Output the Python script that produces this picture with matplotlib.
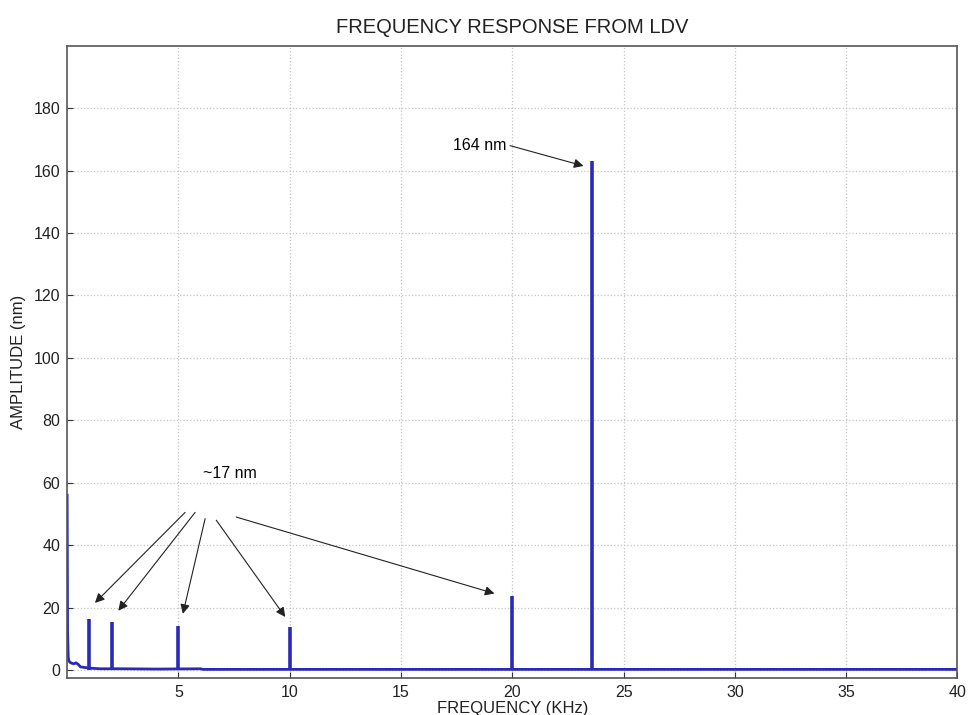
import matplotlib.pyplot as plt
import numpy as np

plt.rcParams['font.family'] = ['Liberation Sans', 'DejaVu Sans']

# spectrum floor (kHz, nm)
floor_freq = [0.0, 0.02, 0.05, 0.08, 0.12, 0.2, 0.3, 0.4, 0.5, 0.6, 0.8, 1.0, 1.5, 2.5, 4.0, 6.0, 6.1, 40.0]
floor_amp = [56.0, 12.0, 4.0, 3.0, 2.5, 2.2, 2.0, 2.3, 1.8, 1.0, 0.8, 0.6, 0.4, 0.4, 0.3, 0.4, 0.2, 0.2]

# discrete peaks
peak_freq = [1.0, 2.0, 5.0, 10.0, 20.0, 23.6]
peak_amp = [16.5, 15.3, 14.2, 13.8, 23.8, 163.0]

# "~17 nm" arrow tips and tails
tip_x = [1.25, 2.3, 5.2, 9.8, 19.2]
tip_y = [21.5, 19.0, 18.0, 17.0, 24.5]
tail_x = [5.3, 5.75, 6.2, 6.7, 7.6]
tail_y = [50.5, 50.5, 48.5, 48.0, 49.0]

blue = '#2a2ab8'

fig = plt.figure(figsize=(9.73, 7.15), dpi=100)
ax = fig.add_axes([0.069, 0.052, 0.915, 0.884])

ax.plot(floor_freq, floor_amp, color=blue, lw=2.0)
ax.vlines(peak_freq, 0, peak_amp, color=blue, lw=2.6)

ax.set_xlim(0, 40)
ax.set_ylim(-2.5, 200)
ax.set_xticks([5, 10, 15, 20, 25, 30, 35, 40])
ax.set_yticks([0, 20, 40, 60, 80, 100, 120, 140, 160, 180])
ax.tick_params(direction='in', labelsize=11.5, length=4, pad=5,
               colors='#333333', labelcolor='#222222')
ax.grid(True, linestyle=':', color='#c4c4c4', lw=0.9)
for s in ax.spines.values():
    s.set_color('#555555')
    s.set_linewidth(1.2)

ax.set_title('FREQUENCY RESPONSE FROM LDV', fontsize=14.5, color='#222222', pad=9)
ax.set_xlabel('FREQUENCY (KHz)', fontsize=12, color='#222222', labelpad=1)
ax.set_ylabel('AMPLITUDE (nm)', fontsize=12, color='#222222', labelpad=5)

ax.text(7.3, 63, '~17 nm', ha='center', va='center', fontsize=11.5)
for tx, ty, sx, sy in zip(tip_x, tip_y, tail_x, tail_y):
    ax.annotate('', xy=(tx, ty), xytext=(sx, sy),
                arrowprops=dict(arrowstyle='-|>', color='#222222', lw=0.8,
                                mutation_scale=14, shrinkA=0, shrinkB=0))

ax.text(18.55, 168, '164 nm', ha='center', va='center', fontsize=11.5)
ax.annotate('', xy=(23.2, 161.5), xytext=(19.9, 168),
            arrowprops=dict(arrowstyle='-|>', color='#222222', lw=0.8,
                            mutation_scale=14, shrinkA=0, shrinkB=0))

fig.savefig('out.png', dpi=100)
